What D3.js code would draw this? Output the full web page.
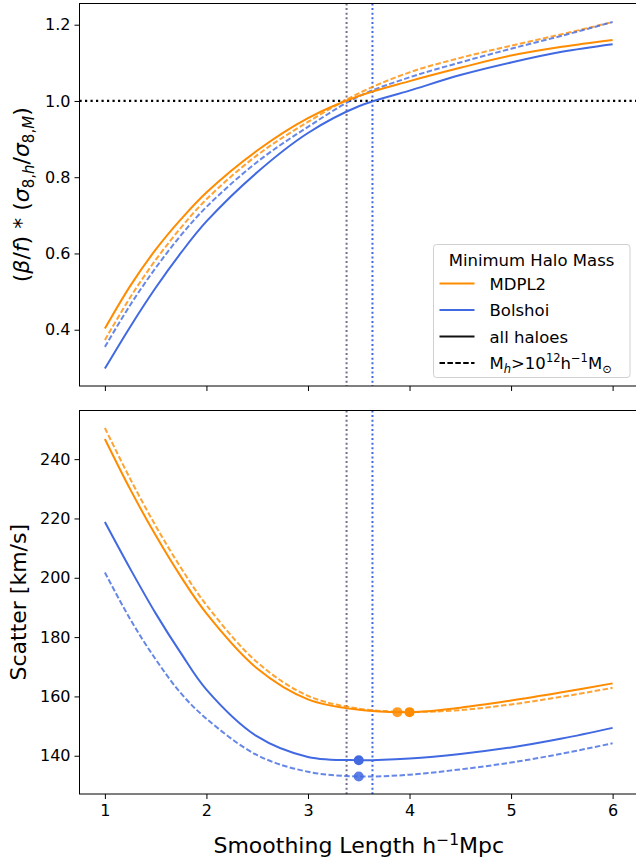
<!DOCTYPE html>
<html><head><meta charset="utf-8">
<script src="https://cdn.jsdelivr.net/npm/d3@7"></script>
<style>
body{margin:0;background:#fff}
svg{display:block}
text{font-family:"DejaVu Sans",sans-serif;fill:#000}
</style></head>
<body><svg id="c" width="636" height="857"></svg>
<script>
// ---------- data ----------
const xs = [1, 1.25, 1.5, 1.75, 2, 2.5, 3, 3.5, 4, 4.5, 5, 5.5, 6];
// top panel: (beta/f)*(sigma8,h/sigma8,M)
const ratioMdplAll = [0.403, 0.515, 0.610, 0.690, 0.760, 0.870, 0.955, 1.013, 1.052, 1.087, 1.119, 1.142, 1.160];
const ratioBolAll  = [0.298, 0.408, 0.510, 0.602, 0.684, 0.813, 0.916, 0.986, 1.027, 1.068, 1.101, 1.129, 1.149];
const ratioMdplBig = [0.373, 0.485, 0.583, 0.668, 0.742, 0.858, 0.945, 1.020, 1.075, 1.113, 1.145, 1.175, 1.207];
const ratioBolBig  = [0.355, 0.465, 0.562, 0.648, 0.722, 0.840, 0.932, 1.012, 1.062, 1.101, 1.137, 1.171, 1.207];
// bottom panel: scatter [km/s]
const scatMdplAll = [246.8, 229.8, 214.3, 200.3, 188.0, 169.4, 159.0, 155.5, 154.7, 156.2, 158.6, 161.4, 164.4];
const scatMdplBig = [250.5, 233.3, 217.5, 203.3, 190.8, 171.5, 160.2, 155.9, 154.8, 155.4, 157.3, 159.9, 162.9];
const scatBolAll  = [218.8, 203.0, 188.0, 174.5, 162.3, 146.5, 139.6, 138.5, 139.1, 140.6, 142.8, 145.8, 149.4];
const scatBolBig  = [201.8, 186.0, 172.5, 161.0, 152.5, 140.2, 134.6, 133.0, 133.6, 135.4, 137.7, 140.7, 144.2];
// minima markers (order: MDPL2 all, MDPL2 big, Bolshoi all, Bolshoi big)
const minX = [4.0, 3.88, 3.5, 3.5];
const minY = [154.7, 154.7, 138.5, 133.0];
// vertical reference lines (MDPL2, Bolshoi)
const vlineX = [3.38, 3.635];
const refRatio = 1.0;
const xTicks = [1, 2, 3, 4, 5, 6];
const topTicks = [0.4, 0.6, 0.8, 1.0, 1.2];
const botTicks = [140, 160, 180, 200, 220, 240];

// ---------- styles ----------
const ORANGE = "#ff8c00", BLUE = "#4169e1", VGREY = "#7a6e8c";
const TICKFS = "16px", LABFS = "22px";
const svg = d3.select("#c");

const L = 79.5, R = 638;
const x = d3.scaleLinear().domain([0.75, 6.25]).range([L, R]);
const yT = d3.scaleLinear().domain([0.2524, 1.2556]).range([386, 3.5]);
const yB = d3.scaleLinear().domain([127.1, 256.4]).range([794, 410.5]);

function panel(y, ticks, fmt, showX) {
  const g = svg.append("g");
  const [y0] = y.range();
  const ya = g.append("g").attr("transform", `translate(${L},0)`)
    .call(d3.axisLeft(y).tickValues(ticks).tickFormat(fmt).tickSize(5).tickPadding(4).tickSizeOuter(0));
  ya.select(".domain").remove();
  ya.selectAll("text").style("font-size", TICKFS).style("font-family", "DejaVu Sans");
  const xa = g.append("g").attr("transform", `translate(0,${y0})`)
    .call(d3.axisBottom(x).tickValues(xTicks).tickFormat(showX ? d3.format("d") : () => "").tickSize(5).tickPadding(6).tickSizeOuter(0));
  xa.select(".domain").remove();
  xa.selectAll("text").style("font-size", TICKFS).style("font-family", "DejaVu Sans");
  return g;
}

function drawLine(g, y, vals, color, dashed) {
  const line = d3.line().x((d, i) => x(xs[i])).y(d => y(d)).curve(d3.curveCatmullRom.alpha(0.5));
  g.append("path").datum(vals).attr("d", line).attr("fill", "none")
    .attr("stroke", color).attr("stroke-width", 2)
    .attr("stroke-opacity", dashed ? 0.8 : 1)
    .attr("stroke-dasharray", dashed ? "5.5,2.4" : null);
}

function spines(y) {
  const [y0, y1] = y.range();
  svg.append("rect").attr("x", L).attr("y", y1).attr("width", R - L).attr("height", y0 - y1)
    .attr("fill", "none").attr("stroke", "#000").attr("stroke-width", 1);
}

function vlines(y) {
  const [y0, y1] = y.range();
  const cols = [VGREY, BLUE];
  vlineX.forEach((v, i) => {
    svg.append("line").attr("x1", x(v)).attr("x2", x(v)).attr("y1", y1).attr("y2", y0)
      .attr("stroke", cols[i]).attr("stroke-width", 2).attr("stroke-dasharray", "2,2.6");
  });
}

// ---------- top panel ----------
panel(yT, topTicks, d3.format(".1f"), false);
vlines(yT);
svg.append("line").attr("x1", L).attr("x2", R).attr("y1", yT(refRatio)).attr("y2", yT(refRatio))
  .attr("stroke", "#000").attr("stroke-width", 2.2).attr("stroke-dasharray", "2.2,3.3");
drawLine(svg, yT, ratioMdplBig, ORANGE, true);
drawLine(svg, yT, ratioBolBig, BLUE, true);
drawLine(svg, yT, ratioMdplAll, ORANGE, false);
drawLine(svg, yT, ratioBolAll, BLUE, false);
spines(yT);

// ---------- bottom panel ----------
panel(yB, botTicks, d3.format("d"), true);
vlines(yB);
drawLine(svg, yB, scatMdplBig, ORANGE, true);
drawLine(svg, yB, scatBolBig, BLUE, true);
drawLine(svg, yB, scatMdplAll, ORANGE, false);
drawLine(svg, yB, scatBolAll, BLUE, false);
const dotCols = [ORANGE, ORANGE, BLUE, BLUE];
const dotOp = [1, 0.85, 1, 0.85];
minX.forEach((v, i) => {
  svg.append("circle").attr("cx", x(v)).attr("cy", yB(minY[i])).attr("r", 5)
    .attr("fill", dotCols[i]).attr("fill-opacity", dotOp[i]);
});
spines(yB);

// ---------- axis labels ----------
svg.append("text").attr("x", (L + R) / 2).attr("y", 853).attr("text-anchor", "middle")
  .style("font-size", LABFS)
  .call(t => {
    t.append("tspan").text("Smoothing Length h");
    t.append("tspan").attr("dy", -8.5).style("font-size", "15.5px").text("\u22121");
    t.append("tspan").attr("dy", 8.5).text("Mpc");
  });

svg.append("text").attr("transform", `translate(26,${(yB.range()[0] + yB.range()[1]) / 2}) rotate(-90)`)
  .attr("text-anchor", "middle").style("font-size", LABFS).text("Scatter [km/s]");

svg.append("text").attr("transform", `translate(29,${(yT.range()[0] + yT.range()[1]) / 2}) rotate(-90)`)
  .attr("text-anchor", "middle").style("font-size", LABFS)
  .call(t => {
    const sub = 15;
    t.append("tspan").text("(");
    t.append("tspan").style("font-style", "italic").text("β");
    t.append("tspan").text("/");
    t.append("tspan").style("font-style", "italic").text("f");
    t.append("tspan").text(") * (");
    t.append("tspan").style("font-style", "italic").text("σ");
    t.append("tspan").attr("dy", 5).style("font-size", sub + "px").text("8,");
    t.append("tspan").style("font-size", sub + "px").style("font-style", "italic").text("h");
    t.append("tspan").attr("dy", -5).text("/");
    t.append("tspan").style("font-style", "italic").text("σ");
    t.append("tspan").attr("dy", 5).style("font-size", sub + "px").text("8,");
    t.append("tspan").style("font-size", sub + "px").style("font-style", "italic").text("M");
    t.append("tspan").attr("dy", -5).text(")");
  });

// ---------- legend ----------
const lg = svg.append("g");
lg.append("rect").attr("x", 433.5).attr("y", 244.5).attr("width", 196.5).attr("height", 133)
  .attr("rx", 3).attr("fill", "#fff").attr("fill-opacity", 0.8).attr("stroke", "#d0d0d0");
lg.append("text").attr("x", 531.5).attr("y", 265.5).attr("text-anchor", "middle")
  .style("font-size", "16.5px").text("Minimum Halo Mass");
const entries = [
  {label: "MDPL2", color: ORANGE, dash: null},
  {label: "Bolshoi", color: BLUE, dash: null},
  {label: "all haloes", color: "#111", dash: null},
  {label: "M", color: "#000", dash: "5.5,2.4"}
];
entries.forEach((e, i) => {
  const yy = 283.5 + i * 26.5;
  lg.append("line").attr("x1", 439.5).attr("x2", 474.5).attr("y1", yy).attr("y2", yy)
    .attr("stroke", e.color).attr("stroke-width", 2).attr("stroke-dasharray", e.dash);
  const t = lg.append("text").attr("x", 489.5).attr("y", yy + 6).style("font-size", "16.5px");
  if (i < 3) t.text(e.label);
  else {
    t.append("tspan").text("M");
    t.append("tspan").attr("dy", 4).style("font-size", "11.5px").style("font-style", "italic").text("h");
    t.append("tspan").attr("dy", -4).text(">10");
    t.append("tspan").attr("dy", -7).style("font-size", "11.5px").text("12");
    t.append("tspan").attr("dy", 7).text("h");
    t.append("tspan").attr("dy", -7).style("font-size", "11.5px").text("\u22121");
    t.append("tspan").attr("dy", 7).text("M");
    t.append("tspan").attr("dy", 4).style("font-size", "11.5px").text("\u2299");
  }
});
</script></body></html>
